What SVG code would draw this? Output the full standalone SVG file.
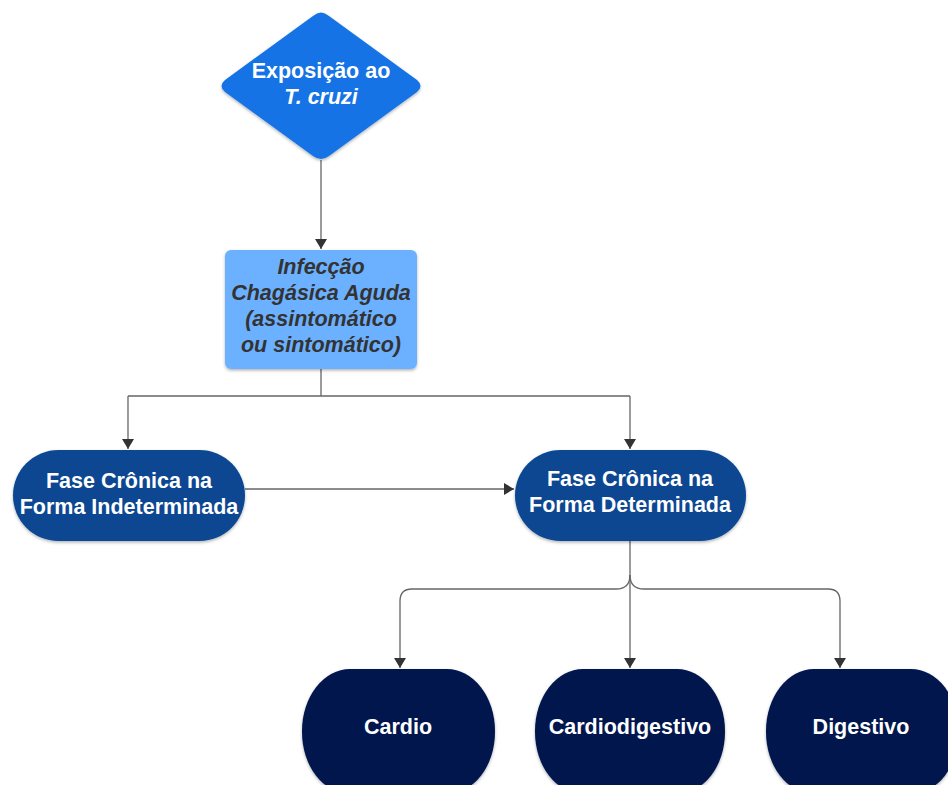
<svg xmlns="http://www.w3.org/2000/svg" width="948" height="785" viewBox="0 0 948 785">
<defs>
<style>
.t{font-family:"Liberation Sans",Arial,sans-serif;font-weight:bold;text-anchor:middle;font-size:21.5px;}
.w{fill:#ffffff;}
.d{fill:#333333;font-style:italic;}
.c{fill:none;stroke:#666;stroke-width:1.3;}
</style>
<marker id="ah" viewBox="0 0 10 12" refX="10" refY="6" markerWidth="12" markerHeight="12" markerUnits="userSpaceOnUse" orient="auto">
<path d="M0,0 L10,6 L0,12 z" fill="#333"/>
</marker>
<filter id="sh" x="-10%" y="-10%" width="120%" height="130%">
<feDropShadow dx="0" dy="1.5" stdDeviation="1.5" flood-color="#000" flood-opacity="0.3"/>
</filter>
</defs>
<rect width="948" height="785" fill="#ffffff"/>
<g id="connectors">
<path class="c" d="M321,160 V249" marker-end="url(#ah)"/>
<path class="c" d="M321,369 V396 M128,396 H630"/>
<path class="c" d="M128,396 V449" marker-end="url(#ah)"/>
<path class="c" d="M630,396 V449" marker-end="url(#ah)"/>
<path class="c" d="M245,489 H514" marker-end="url(#ah)"/>
<path class="c" d="M630,541 V668" marker-end="url(#ah)"/>
<path class="c" d="M630,575 Q630,589 616,589 H412 Q400,589 400,601 V668" marker-end="url(#ah)"/>
<path class="c" d="M630,575 Q630,589 644,589 H828 Q840,589 840,601 V668" marker-end="url(#ah)"/>
</g>
<g id="n1">
<path d="M313,16 Q321,9 329,16 L417,80 Q424,86 417,92 L329,156 Q321,162 313,156 L225,92 Q218,86 225,80 Z" fill="#1473E6" filter="url(#sh)"/>
<text class="t w" x="321" y="78">Exposição ao</text>
<text class="t w" x="321" y="104" font-style="italic">T. cruzi</text>
</g>
<g id="n2">
<rect x="225" y="250" width="192" height="119" rx="6" fill="#6CB1FF" filter="url(#sh)"/>
<text class="t d" x="321" y="274">Infecção</text>
<text class="t d" x="321" y="300">Chagásica Aguda</text>
<text class="t d" x="321" y="326">(assintomático</text>
<text class="t d" x="321" y="352">ou sintomático)</text>
</g>
<g id="n3">
<rect x="13" y="450" width="232" height="91" rx="45.5" fill="#084792" filter="url(#sh)"/>
<text class="t w" x="129" y="488">Fase Crônica na</text>
<text class="t w" x="129" y="514">Forma Indeterminada</text>
</g>
<g id="n4">
<rect x="515" y="450" width="231" height="91" rx="45.5" fill="#084792" filter="url(#sh)"/>
<text class="t w" x="630" y="486">Fase Crônica na</text>
<text class="t w" x="630" y="512">Forma Determinada</text>
</g>
<g id="n5">
<rect x="302" y="669" width="193" height="125" rx="48" ry="62" fill="#04164D" filter="url(#sh)"/>
<text class="t w" x="398" y="734">Cardio</text>
</g>
<g id="n6">
<rect x="535" y="669" width="190" height="125" rx="48" ry="62" fill="#04164D" filter="url(#sh)"/>
<text class="t w" x="630" y="734">Cardiodigestivo</text>
</g>
<g id="n7">
<rect x="766" y="669" width="193" height="125" rx="48" ry="62" fill="#04164D" filter="url(#sh)"/>
<text class="t w" x="861" y="734">Digestivo</text>
</g>
</svg>
